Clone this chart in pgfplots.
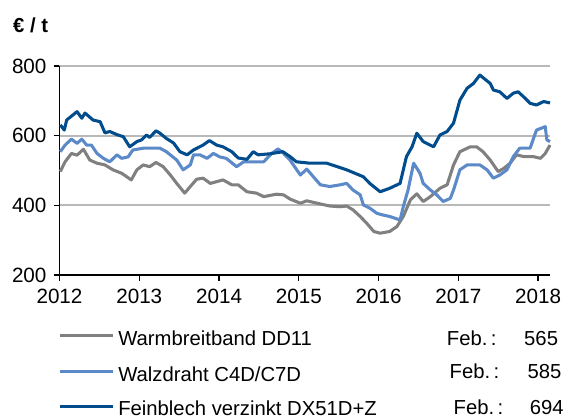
\documentclass[border=0pt]{standalone}
\usepackage{pgfplots}
\pgfplotsset{compat=1.18}
\usepackage{fontspec}
\setmainfont{Liberation Sans}
\definecolor{cgray}{RGB}{128,128,128}
\definecolor{clight}{RGB}{92,138,200}
\definecolor{cdark}{RGB}{0,76,140}
\definecolor{cgrid}{RGB}{185,185,185}

\pgfplotstableread{
x y
2012.01 497
2012.07 525
2012.15 549
2012.22 544
2012.30 561
2012.38 530
2012.47 521
2012.57 516
2012.67 502
2012.78 492
2012.90 473
2012.97 502
2013.05 516
2013.13 511
2013.21 523
2013.30 511
2013.39 487
2013.47 463
2013.57 435
2013.64 454
2013.72 475
2013.80 478
2013.89 463
2013.97 468
2014.05 473
2014.16 459
2014.24 459
2014.35 439
2014.47 435
2014.56 425
2014.72 432
2014.81 430
2014.89 418
2015.02 406
2015.10 413
2015.27 404
2015.39 398
2015.52 396
2015.60 398
2015.68 387
2015.77 368
2015.85 349
2015.94 325
2016.02 320
2016.14 325
2016.23 339
2016.31 368
2016.40 416
2016.48 433
2016.56 411
2016.65 425
2016.77 449
2016.86 459
2016.94 516
2017.02 554
2017.15 568
2017.23 568
2017.31 554
2017.40 530
2017.50 497
2017.57 506
2017.65 521
2017.73 545
2017.82 540
2017.94 540
2018.03 535
2018.09 549
2018.15 573
}\warm

\pgfplotstableread{
x y
2012.01 554
2012.07 573
2012.15 590
2012.22 578
2012.28 590
2012.34 573
2012.40 573
2012.47 549
2012.55 535
2012.63 525
2012.72 545
2012.78 535
2012.86 539
2012.92 559
2013.05 564
2013.26 564
2013.34 554
2013.47 530
2013.55 502
2013.64 516
2013.68 545
2013.76 545
2013.85 535
2013.93 549
2014.01 539
2014.09 535
2014.22 511
2014.31 525
2014.39 525
2014.56 525
2014.66 549
2014.74 562
2014.81 549
2014.89 530
2015.02 487
2015.10 504
2015.27 459
2015.39 454
2015.52 459
2015.60 463
2015.68 444
2015.77 430
2015.81 401
2015.89 392
2015.98 377
2016.06 372
2016.14 368
2016.27 358
2016.31 396
2016.37 444
2016.44 521
2016.52 492
2016.56 463
2016.65 444
2016.73 430
2016.81 411
2016.90 420
2016.94 444
2017.02 502
2017.11 516
2017.27 516
2017.36 502
2017.44 478
2017.52 487
2017.61 502
2017.69 540
2017.77 564
2017.90 564
2017.98 616
2018.09 626
2018.11 588
2018.15 583
}\walz

\pgfplotstableread{
x y
2012.01 631
2012.06 616
2012.09 645
2012.22 669
2012.28 650
2012.32 665
2012.42 645
2012.51 640
2012.57 608
2012.63 612
2012.72 603
2012.80 597
2012.88 568
2012.97 583
2013.03 588
2013.09 602
2013.13 595
2013.21 614
2013.26 607
2013.34 592
2013.43 579
2013.51 554
2013.60 545
2013.68 559
2013.80 573
2013.88 586
2013.97 573
2014.05 568
2014.16 554
2014.24 536
2014.35 532
2014.43 554
2014.49 545
2014.64 548
2014.80 554
2014.89 540
2014.97 525
2015.14 521
2015.35 521
2015.60 502
2015.81 482
2015.89 463
2016.02 439
2016.14 449
2016.27 463
2016.35 540
2016.42 568
2016.48 607
2016.56 583
2016.69 568
2016.77 602
2016.86 612
2016.94 636
2017.02 702
2017.11 736
2017.19 750
2017.27 774
2017.40 750
2017.44 731
2017.52 726
2017.61 707
2017.69 722
2017.75 726
2017.84 707
2017.90 693
2017.98 688
2018.07 698
2018.15 694
}\fein

\begin{document}
\fontsize{15.2}{18}\selectfont
\begin{tikzpicture}
\begin{axis}[
  at={(0pt,0pt)}, anchor=origin,
  scale only axis,
  width=367.9pt, height=156.75pt,
  xmin=2012, xmax=2018.15,
  ymin=200, ymax=800,
  xtick={2012,2013,2014,2015,2016,2017,2018},
  ytick={200,400,600,800},
  axis x line*=bottom,
  axis y line*=left,
  axis line style={line width=1.3pt, black, -},
  tick align=outside,
  major tick length=4.5pt,
  tick style={line width=1pt, black},
  ymajorgrids,
  grid style={cgrid, line width=1.3pt},
  /pgf/number format/1000 sep={},
  /pgf/number format/assume math mode=true,
  tick label style={font=\fontsize{15.5}{18}\selectfont},
  xticklabel style={yshift=-1pt},
  clip=false,
]
\addplot[cgray, line width=2.3pt, line join=round] table[x=x,y=y] {\warm};
\addplot[clight, line width=2.3pt, line join=round] table[x=x,y=y] {\walz};
\addplot[cdark, line width=2.3pt, line join=round] table[x=x,y=y] {\fein};
\end{axis}
\node[anchor=base west, inner sep=0pt, font=\bfseries\fontsize{15.2}{18}\selectfont] at (-34.9pt,182.25pt) {€ / t};
% legend
\draw[cgray, line width=2.3pt] (0.4pt,-45.5pt) -- (40pt,-45.5pt);
\draw[clight, line width=2.3pt] (0.4pt,-72.5pt) -- (40pt,-72.5pt);
\draw[cdark, line width=2.3pt] (0.4pt,-98.8pt) -- (40pt,-98.8pt);
\node[anchor=base west, inner sep=0pt] at (43.9pt,-52.5pt) {Warmbreitband DD11};
\node[anchor=base west, inner sep=0pt] at (43.9pt,-79.5pt) {Walzdraht C4D/C7D};
\node[anchor=base west, inner sep=0pt] at (43.9pt,-105.3pt) {Feinblech verzinkt DX51D+Z};
\node[anchor=base west, inner sep=0pt] at (290.4pt,-52.5pt) {Feb.\,:};
\node[anchor=base west, inner sep=0pt] at (292.4pt,-77.5pt) {Feb.\,:};
\node[anchor=base west, inner sep=0pt] at (295.4pt,-104.5pt) {Feb.\,:};
\node[anchor=base east, inner sep=0pt] at (374.1pt,-52.5pt) {565};
\node[anchor=base east, inner sep=0pt] at (376.6pt,-77.5pt) {585};
\node[anchor=base east, inner sep=0pt] at (378.4pt,-104.5pt) {694};
\pgfresetboundingbox
\useasboundingbox (-44.625pt,-108pt) rectangle (380.625pt,206.25pt);
\end{tikzpicture}
\end{document}
